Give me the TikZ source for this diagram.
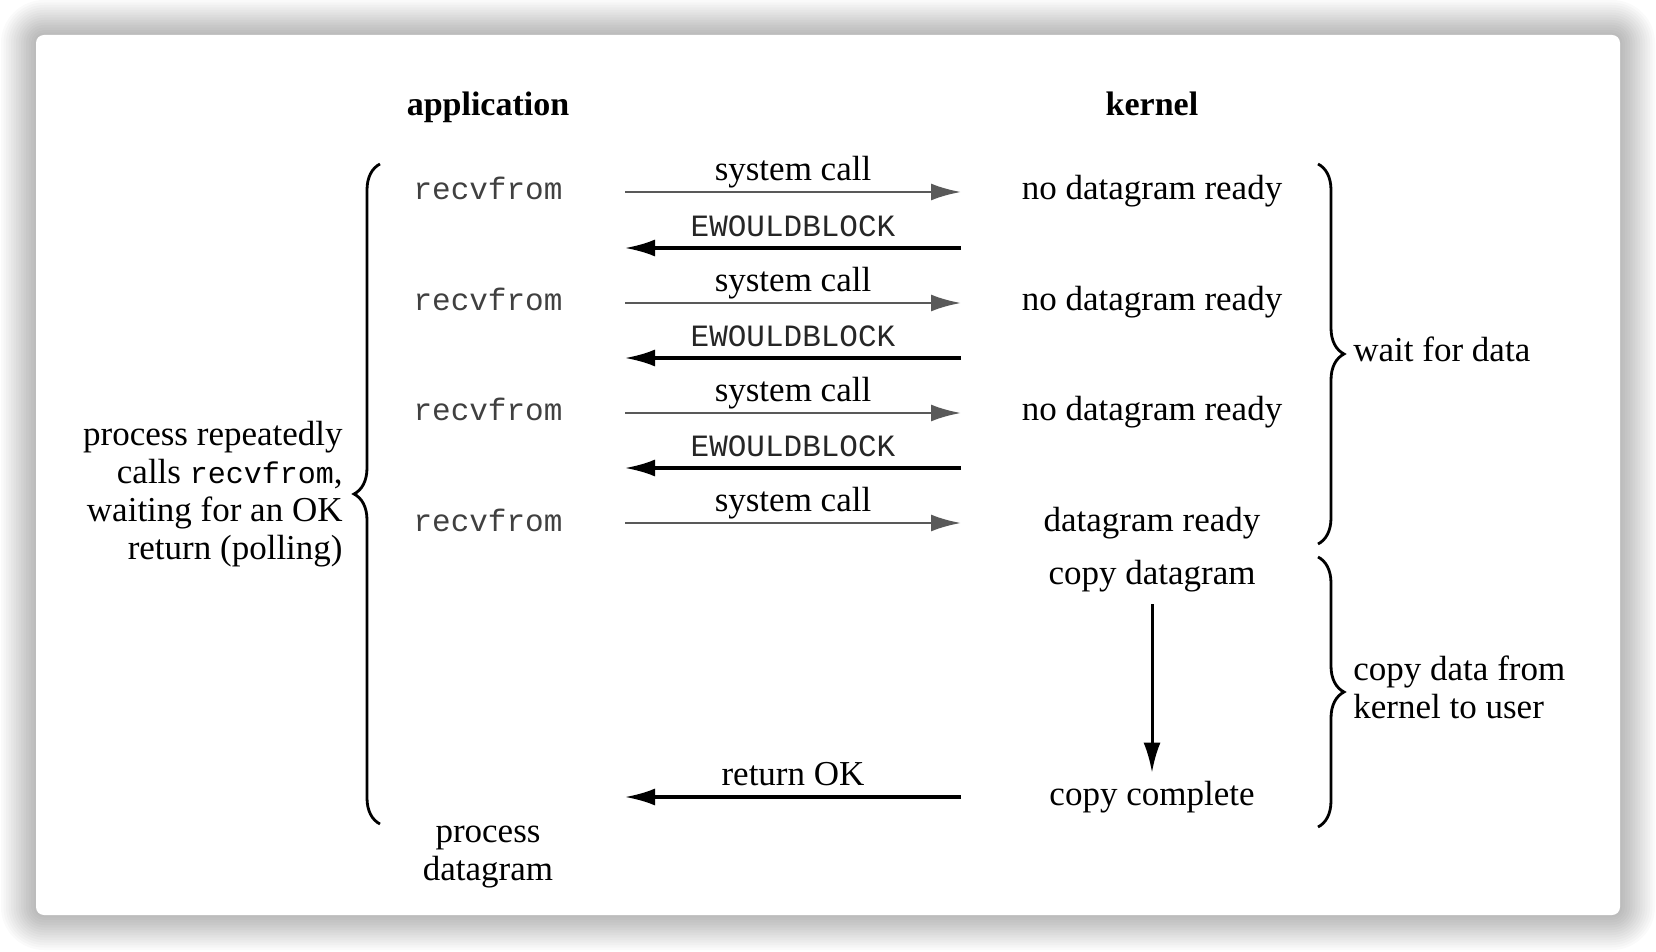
\documentclass[tikz,border=0pt]{standalone}
\usepackage{fontspec}
\setmainfont{Liberation Serif}
\setmonofont{Liberation Mono}
\usepackage{tikz}
\usetikzlibrary{arrows.meta, decorations.pathreplacing}

\begin{document}
\begin{tikzpicture}[x=0.5pt, y=-0.5pt,
  txt/.style={font=\fontsize{17.5}{19}\selectfont, text height=12pt, text depth=4pt, inner sep=2pt},
  hdr/.style={font=\fontsize{17}{19}\selectfont\bfseries, text height=12pt, text depth=4pt},
  fn/.style={font=\fontsize{15.5}{18}\selectfont\ttfamily, text=black!75, text height=12pt, text depth=4pt, inner sep=2pt},
  lbl/.style={font=\fontsize{17.5}{19}\selectfont, text=black, text height=12pt, text depth=4pt, inner sep=1pt},
  errlbl/.style={font=\fontsize{15.5}{18}\selectfont\ttfamily, text=black!85, text height=12pt, text depth=4pt, inner sep=1pt},
  callarrow/.style={line width=1.4pt, black!65, -{Latex[length=15pt, width=8.5pt]}},
  retarrow/.style={line width=1.6pt, black, -{Latex[length=15pt, width=8.5pt]}},
  brc/.style={decorate, decoration={brace, amplitude=13pt}, line width=1.4pt}
]
  \useasboundingbox (0,0) rectangle (1656,952);
  % ---- card with soft shadow ----
  \fill[white] (0,0) rectangle (1656,952);
  \foreach \s [evaluate=\s as \r using 4+1.25*\s] in {1,...,14} {
    \fill[black, opacity=0.018, rounded corners=\r pt] (36-2.5*\s,35-2.5*\s) rectangle (1620+2.5*\s,915+2.5*\s);
  }
  \fill[white, rounded corners=4pt] (36,35) rectangle (1620,915);

  % ---- column heads ----
  \node[hdr] (app) at (488,108) {application};
  \node[hdr] (kern) at (1152,108) {kernel};
  \coordinate (ax) at (625,0);
  \coordinate (bx) at (961,0);

  % ---- polling rounds ----
  \foreach \i/\y/\state in {1/192/no datagram ready, 2/303/no datagram ready, 3/413/no datagram ready, 4/523/datagram ready} {
    \node[fn] (r\i) at (488,\y) {recvfrom};
    \node[txt] (k\i) at (1152,\y) {\state};
    \draw[callarrow] (r\i -| ax) -- (k\i -| bx) node[lbl, midway, above] (sc\i) {system call};
  }
  \foreach \i/\y in {1/248, 2/358, 3/468} {
    \coordinate (e\i) at (961,\y);
    \draw[retarrow] (e\i) -- (e\i -| ax) node[errlbl, midway, above] (wb\i) {EWOULDBLOCK};
  }

  % ---- copy phase ----
  \node[txt] (kc) at (1152,576) {copy datagram};
  \node[txt] (kd) at (1152,797) {copy complete};
  \draw[line width=1.5pt, -{Latex[length=15pt, width=8.5pt]}, shorten <=4pt, shorten >=2pt] (kc) -- (kd);
  \draw[retarrow] (kd -| bx) -- (kd -| ax) node[lbl, midway, above] (ok) {return OK};
  \node[txt, align=center, text height=, text depth=] (pd) at (488,857) {process\\datagram};

  % ---- braces ----
  \draw[brc] (380,824) -- (380,164) node[txt, midway, left=16pt, align=right, text height=, text depth=] (poll)
    {process repeatedly\\calls {\fontsize{15}{19}\selectfont\ttfamily recvfrom},\\waiting for an OK\\return (polling)};
  \draw[brc] (1318,164) -- (1318,544) node[txt, midway, right=15pt] (wait) {wait for data};
  \draw[brc] (1318,557) -- (1318,827) node[txt, midway, right=15pt, yshift=2.5pt, align=left, text height=, text depth=] (copy)
    {copy data from\\kernel to user};
\end{tikzpicture}
\end{document}
